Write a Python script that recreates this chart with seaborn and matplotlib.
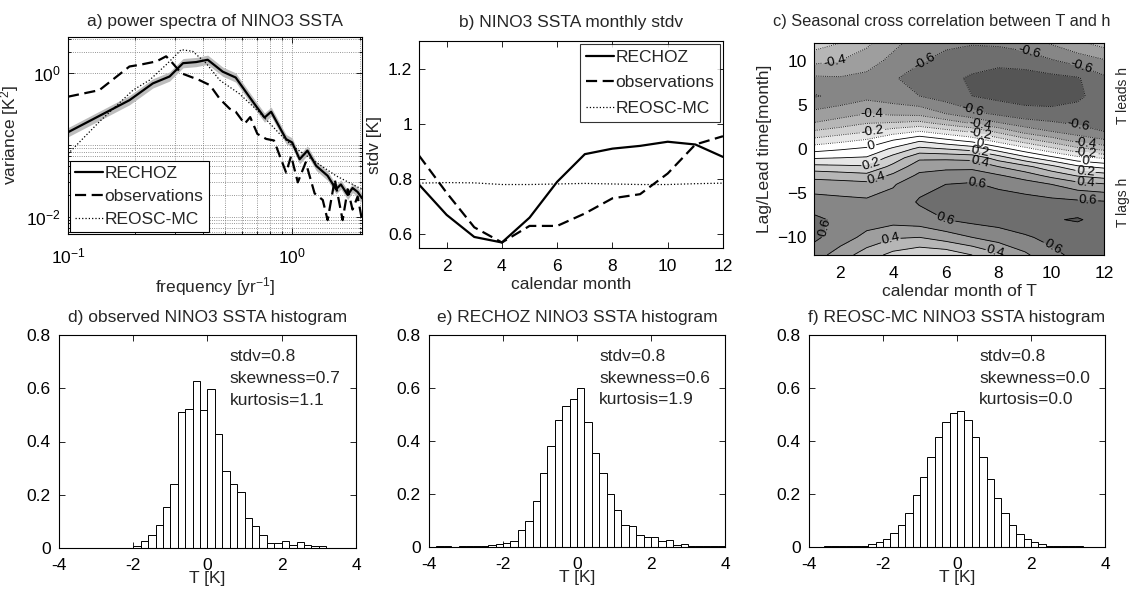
import numpy as np
import pandas as pd
import matplotlib
matplotlib.use('Agg')
import matplotlib.pyplot as plt
import matplotlib.transforms as mtransforms
from matplotlib.ticker import FixedLocator, FuncFormatter, NullFormatter, LogLocator
import seaborn as sns

# ---- a) power spectra -------------------------------------------------------
rechoz_freq = [0.1, 0.188, 0.239, 0.284, 0.326, 0.373, 0.42, 0.49, 0.56, 0.668, 0.753,
               0.806, 0.94, 1.0, 1.08, 1.17, 1.28, 1.44, 1.57, 1.65, 1.77, 1.86, 1.96, 2.05]
rechoz_var = [0.15, 0.42, 0.72, 0.90, 1.38, 1.43, 1.54, 1.05, 0.87, 0.40, 0.24,
              0.29, 0.12, 0.108, 0.063, 0.083, 0.051, 0.037, 0.024, 0.028, 0.020, 0.025, 0.022, 0.018]
rechoz_band = 1.16

obs_freq = [0.1, 0.138, 0.188, 0.209, 0.248, 0.274, 0.293, 0.32, 0.386, 0.43, 0.475, 0.526,
            0.56, 0.614, 0.65, 0.70, 0.766, 0.83, 0.94, 0.99, 1.06, 1.15, 1.26, 1.37, 1.44,
            1.55, 1.68, 1.77, 1.86, 1.96, 2.05]
obs_var = [0.47, 0.58, 1.24, 1.31, 1.46, 1.72, 1.38, 1.0, 0.80, 0.68, 0.44, 0.32,
           0.29, 0.197, 0.244, 0.142, 0.121, 0.115, 0.041, 0.07, 0.03, 0.057, 0.021, 0.017, 0.0089,
           0.033, 0.0089, 0.024, 0.0125, 0.019, 0.0089]

mc_freq = [0.1, 0.138, 0.195, 0.231, 0.274, 0.32, 0.36, 0.413, 0.475, 0.58, 0.71, 0.88,
           1.0, 1.28, 1.57, 2.05]
mc_var = [0.075, 0.21, 0.58, 0.80, 1.31, 2.13, 2.02, 1.38, 0.80, 0.52, 0.29, 0.142,
          0.097, 0.057, 0.037, 0.024]

# ---- b) monthly stdv --------------------------------------------------------
months = np.arange(1, 13)
stdv_rechoz = [0.78, 0.67, 0.59, 0.57, 0.66, 0.79, 0.89, 0.91, 0.92, 0.935, 0.925, 0.88]
stdv_obs = [0.885, 0.75, 0.625, 0.57, 0.63, 0.63, 0.675, 0.73, 0.745, 0.82, 0.925, 0.955]
stdv_mc = [0.785, 0.787, 0.786, 0.78, 0.78, 0.782, 0.784, 0.782, 0.78, 0.78, 0.783, 0.785]

# ---- c) seasonal cross correlation (rows: lag, cols: month 1..12) ----------
lags = [-12, -10, -8, -6, -4, -3, -2, -1, 0, 1, 2, 3, 4, 6, 8, 10, 12]
corr = [
    [0.55, 0.45, 0.35, 0.27, 0.22, 0.23, 0.30, 0.38, 0.48, 0.58, 0.62, 0.61],
    [0.62, 0.55, 0.47, 0.41, 0.40, 0.45, 0.50, 0.55, 0.59, 0.62, 0.63, 0.62],
    [0.62, 0.58, 0.55, 0.54, 0.56, 0.60, 0.63, 0.64, 0.65, 0.69, 0.71, 0.66],
    [0.55, 0.53, 0.52, 0.54, 0.61, 0.64, 0.65, 0.65, 0.64, 0.63, 0.62, 0.61],
    [0.44, 0.44, 0.43, 0.49, 0.57, 0.60, 0.61, 0.58, 0.55, 0.50, 0.44, 0.41],
    [0.37, 0.35, 0.33, 0.42, 0.52, 0.55, 0.56, 0.51, 0.45, 0.37, 0.29, 0.25],
    [0.23, 0.22, 0.21, 0.33, 0.46, 0.47, 0.47, 0.40, 0.33, 0.23, 0.12, 0.07],
    [0.09, 0.10, 0.11, 0.24, 0.38, 0.38, 0.37, 0.25, 0.13, 0.03, -0.07, -0.11],
    [-0.04, -0.01, 0.02, 0.12, 0.23, 0.20, 0.16, 0.05, -0.06, -0.17, -0.27, -0.33],
    [-0.17, -0.13, -0.09, 0.00, 0.08, 0.02, -0.04, -0.15, -0.26, -0.35, -0.44, -0.49],
    [-0.29, -0.25, -0.21, -0.15, -0.10, -0.16, -0.22, -0.33, -0.44, -0.50, -0.55, -0.60],
    [-0.40, -0.36, -0.31, -0.30, -0.28, -0.35, -0.42, -0.50, -0.56, -0.59, -0.62, -0.63],
    [-0.47, -0.44, -0.40, -0.42, -0.43, -0.50, -0.57, -0.62, -0.66, -0.67, -0.66, -0.64],
    [-0.61, -0.57, -0.53, -0.56, -0.60, -0.65, -0.70, -0.73, -0.745, -0.745, -0.72, -0.65],
    [-0.52, -0.51, -0.53, -0.59, -0.64, -0.68, -0.71, -0.73, -0.74, -0.73, -0.71, -0.62],
    [-0.37, -0.40, -0.45, -0.53, -0.59, -0.63, -0.67, -0.68, -0.66, -0.61, -0.56, -0.51],
    [-0.25, -0.30, -0.38, -0.47, -0.55, -0.58, -0.59, -0.58, -0.55, -0.49, -0.42, -0.36],
]
# where the contour labels sit (month, lag)
clabel_spots = [(1.8, 9.4), (5.1, 10.4), (9.1, 10.4), (11.3, 10.6),
                (3.2, 4.0), (3.2, 1.9), (3.2, 0.2), (3.2, -1.9), (3.4, -3.6),
                (7.0, 4.3), (7.3, 2.9), (7.3, 1.9), (7.3, 0.8), (7.3, -0.2), (7.3, -1.3),
                (7.2, -3.8), (11.0, 2.4), (11.3, 0.8), (11.3, -0.4), (11.3, -1.3),
                (11.3, -2.5), (11.3, -3.6), (11.4, -5.4), (6.0, -7.9), (1.3, -8.8),
                (3.9, -10.2), (7.9, -11.5), (10.0, -11.3)]

# ---- d-f) histograms (bin width 0.2) ---------------------------------------
hist_edges = [round(-4.0 + 0.2 * i, 1) for i in range(41)]
hist_centers = [round(e + 0.1, 1) for e in hist_edges[:-1]]
obs_hist = [0.0] * 10 + [0.006, 0.025, 0.05, 0.085, 0.155, 0.24, 0.51, 0.523, 0.626, 0.52,
                         0.598, 0.428, 0.29, 0.242, 0.212, 0.113, 0.082, 0.048, 0.019, 0.019,
                         0.025, 0.012, 0.022, 0.01, 0.009, 0.006] + [0.0] * 4
rechoz_hist = [0.0, 0.002, 0.003, 0.001, 0.002, 0.003, 0.005, 0.004, 0.009, 0.012,
               0.015, 0.022, 0.065, 0.10, 0.172, 0.28, 0.38, 0.48, 0.532, 0.56,
               0.60, 0.472, 0.355, 0.28, 0.20, 0.138, 0.082, 0.078, 0.045, 0.036,
               0.036, 0.022, 0.028, 0.008, 0.01, 0.004, 0.004, 0.002, 0.004, 0.003]
mc_hist = [0.0, 0.001, 0.002, 0.002, 0.002, 0.003, 0.005, 0.005, 0.01, 0.018,
           0.03, 0.052, 0.083, 0.128, 0.197, 0.265, 0.34, 0.415, 0.47, 0.505,
           0.515, 0.48, 0.415, 0.34, 0.255, 0.185, 0.13, 0.083, 0.05, 0.03,
           0.018, 0.01, 0.005, 0.004, 0.002, 0.002, 0.002, 0.001, 0.0, 0.0]
hist_titles = ['d) observed NINO3 SSTA histogram', 'e) RECHOZ NINO3 SSTA histogram',
               'f) REOSC-MC NINO3 SSTA histogram']
hist_stats = [('0.8', '0.7', '1.1'), ('0.8', '0.6', '1.9'), ('0.8', '0.0', '0.0')]

sns.set_style('ticks')
plt.rcParams['font.family'] = ['Liberation Sans', 'DejaVu Sans']
plt.rcParams['font.size'] = 12
plt.rcParams['mathtext.fontset'] = 'custom'
plt.rcParams['mathtext.rm'] = 'Liberation Sans'
plt.rcParams['mathtext.it'] = 'Liberation Sans:italic'

FS = 12.5
fig = plt.figure(figsize=(11.32, 5.95), dpi=100)
W, H = 1132.0, 595.0


def box(l, t, r, b):
    return [l / W, 1 - b / H, (r - l) / W, (b - t) / H]


def matlab_axes(ax):
    for s in ax.spines.values():
        s.set_visible(True)
        s.set_linewidth(0.8)
        s.set_color('k')
    ax.tick_params(which='both', direction='in', top=True, right=True, labelsize=FS,
                   length=4, width=0.6, colors='k', pad=5)
    ax.tick_params(which='minor', length=2)


gfmt = FuncFormatter(lambda v, p: '%g' % v)
dash = (0, (5, 2.5))

# a) -------------------------------------------------------------------------
ax = fig.add_axes(box(68, 37, 362, 234))
lo = [v / rechoz_band for v in rechoz_var]
hi = [v * rechoz_band for v in rechoz_var]
ax.fill_between(rechoz_freq, lo, hi, color='0.74', lw=0)
sns.lineplot(x=rechoz_freq, y=rechoz_var, ax=ax, color='k', lw=1.6, label='RECHOZ')
sns.lineplot(x=obs_freq, y=obs_var, ax=ax, color='k', lw=1.6, ls=dash, label='observations')
sns.lineplot(x=mc_freq, y=mc_var, ax=ax, color='k', lw=0.9, ls=':', label='REOSC-MC')
ax.set_xscale('log')
ax.set_yscale('log')
ax.set_xlim(0.1, 2.05)
ax.set_ylim(0.0057, 3.2)
ax.set_xticks([0.1, 1.0])
ax.xaxis.set_minor_locator(LogLocator(base=10, subs=np.arange(2, 10)))
ax.xaxis.set_minor_formatter(NullFormatter())
ax.set_yticks([0.01, 1.0])
ax.yaxis.set_minor_locator(FixedLocator([0.006, 0.007, 0.008, 0.009, 0.02, 0.03, 0.04, 0.05,
                                         0.06, 0.07, 0.08, 0.09, 0.1, 2.0, 3.0]))
ax.yaxis.set_minor_formatter(NullFormatter())
ax.grid(True, which='both', ls=':', color='0.45', lw=0.6)
matlab_axes(ax)
ax.tick_params(axis='x', which='major', pad=9)
ax.set_title('a) power spectra of NINO3 SSTA', fontsize=FS, pad=8)
ax.set_xlabel('frequency [yr$^{-1}$]', fontsize=FS, labelpad=6)
ax.set_ylabel('variance [K$^{2}$]', fontsize=FS)
leg = ax.legend(loc='lower left', fontsize=FS, frameon=True, fancybox=False,
                borderaxespad=0.1, handlelength=1.6, handletextpad=0.1, labelspacing=0.45,
                borderpad=0.3)
leg.get_frame().set_edgecolor('k')
leg.get_frame().set_linewidth(0.8)
leg.get_frame().set_alpha(1)

# b) -------------------------------------------------------------------------
ax = fig.add_axes(box(419, 41, 723, 248))
sns.lineplot(x=months, y=stdv_rechoz, ax=ax, color='k', lw=1.6, label='RECHOZ')
sns.lineplot(x=months, y=stdv_obs, ax=ax, color='k', lw=1.6, ls=dash, label='observations')
sns.lineplot(x=months, y=stdv_mc, ax=ax, color='k', lw=0.9, ls=':', label='REOSC-MC')
ax.set_xlim(1, 12)
ax.set_ylim(0.55, 1.3)
ax.set_xticks([2, 4, 6, 8, 10, 12])
ax.set_yticks([0.6, 0.8, 1.0, 1.2])
ax.yaxis.set_major_formatter(gfmt)
matlab_axes(ax)
ax.tick_params(axis='x', pad=8)
ax.set_title('b) NINO3 SSTA monthly stdv', fontsize=FS, pad=10)
ax.set_xlabel('calendar month', fontsize=FS, labelpad=2)
ax.set_ylabel('stdv [K]', fontsize=FS)
leg = ax.legend(loc='upper right', fontsize=FS, frameon=True, fancybox=False,
                borderaxespad=0.15, handlelength=1.6, handletextpad=0.1, labelspacing=0.6,
                borderpad=0.35)
leg.get_frame().set_edgecolor('k')
leg.get_frame().set_linewidth(0.8)

# c) -------------------------------------------------------------------------
ax = fig.add_axes(box(814, 43, 1104, 255))
Z = np.array(corr)
fill_levels = np.round(np.arange(-8, 9) / 10.0, 1)
mids = (fill_levels[:-1] + fill_levels[1:]) / 2
fill_colors = [str(min(1.0, 1 - 0.95 * (abs(m) - 0.05))) for m in mids]
ax.contourf(months, lags, Z, levels=fill_levels, colors=fill_colors)
odd_levels = np.round(np.arange(-7, 8, 2) / 10.0, 1)
even_levels = np.round(np.arange(-6, 7, 2) / 10.0, 1)
ax.contour(months, lags, Z, levels=odd_levels, colors='k', linewidths=0.6,
           linestyles=[':' if l < 0 else '-' for l in odd_levels])
cs = ax.contour(months, lags, Z, levels=even_levels, colors='k', linewidths=0.6,
                linestyles=[':' if l < 0 else '-' for l in even_levels])
ax.clabel(cs, fmt='%g', fontsize=9.5, inline=True, inline_spacing=1, manual=clabel_spots)
ax.set_xlim(1, 12)
ax.set_ylim(-12, 12)
ax.set_xticks([2, 4, 6, 8, 10, 12])
ax.set_yticks([-10, -5, 0, 5, 10])
matlab_axes(ax)
ax.tick_params(axis='x', pad=8)
ax.set_title('c) Seasonal cross correlation between T and h', fontsize=11.8, x=0.44, pad=12)
ax.set_xlabel('calendar month of T', fontsize=FS, labelpad=2)
ax.set_ylabel('Lag/Lead time[month]', fontsize=FS)
trans = mtransforms.blended_transform_factory(ax.transAxes, ax.transData)
ax.text(1.04, 6, 'T leads h', rotation=90, transform=trans, ha='left', va='center', fontsize=10)
ax.text(1.04, -6, 'T lags h', rotation=90, transform=trans, ha='left', va='center', fontsize=10)

# d-f) -----------------------------------------------------------------------
hist_boxes = [(59, 335, 356, 548), (429, 335, 725, 547), (809, 335, 1105, 547)]
for bx, heights, title, (sd, sk, ku) in zip(hist_boxes, [obs_hist, rechoz_hist, mc_hist],
                                          hist_titles, hist_stats):
    ax = fig.add_axes(box(*bx))
    df = pd.DataFrame({'T': hist_centers, 'w': heights})
    sns.histplot(data=df, x='T', weights='w', bins=hist_edges, stat='count', ax=ax,
                 color='white', edgecolor='k', linewidth=0.7, alpha=1)
    ax.set_xlim(-4, 4)
    ax.set_ylim(0, 0.8)
    ax.set_xticks([-4, -2, 0, 2, 4])
    ax.set_yticks([0, 0.2, 0.4, 0.6, 0.8])
    ax.yaxis.set_major_formatter(gfmt)
    ax.xaxis.set_major_formatter(gfmt)
    matlab_axes(ax)
    ax.tick_params(axis='x', pad=7)
    ax.tick_params(axis='y', pad=6)
    ax.set_title(title, fontsize=FS, pad=9)
    ax.set_xlabel('T [K]', fontsize=FS, labelpad=-1)
    ax.set_ylabel('')
    ax.text(0.6, 0.72, 'stdv=' + sd, ha='left', va='center', fontsize=FS)
    ax.text(0.6, 0.635, 'skewness=' + sk, ha='left', va='center', fontsize=FS)
    ax.text(0.6, 0.555, 'kurtosis=' + ku, ha='left', va='center', fontsize=FS)

fig.savefig('out.png', dpi=100)
